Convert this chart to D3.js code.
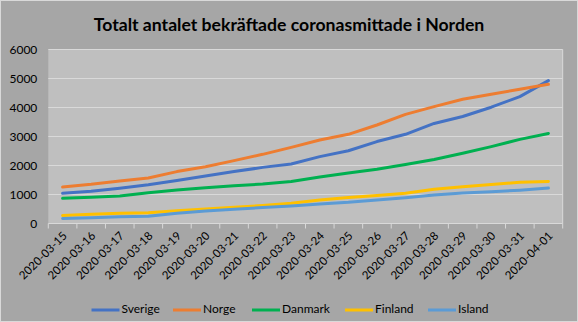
<!DOCTYPE html>
<html>
<head>
<meta charset="utf-8">
<script src="https://cdn.jsdelivr.net/npm/d3@7"></script>
<style>
  html, body { margin: 0; padding: 0; background: #a6a6a6; }
  svg { display: block; font-family: Lato, "Open Sans", sans-serif; }
</style>
</head>
<body>
<svg id="chart" width="578" height="322"></svg>
<script>
// Dates (x categories)
const dates = [
  "2020-03-15","2020-03-16","2020-03-17","2020-03-18","2020-03-19","2020-03-20",
  "2020-03-21","2020-03-22","2020-03-23","2020-03-24","2020-03-25","2020-03-26",
  "2020-03-27","2020-03-28","2020-03-29","2020-03-30","2020-03-31","2020-04-01"
];

// Cumulative confirmed cases per country
const sverige = [1040,1110,1215,1335,1485,1640,1790,1935,2050,2305,2510,2825,3075,3450,3690,4010,4375,4925];
const norge   = [1259,1351,1466,1569,1790,1960,2167,2385,2626,2879,3075,3397,3764,4030,4282,4454,4630,4800];
const danmark = [868,903,948,1063,1155,1230,1300,1362,1450,1600,1745,1870,2035,2210,2420,2650,2900,3105];
const finland = [280,316,351,373,443,500,557,622,695,810,895,965,1045,1180,1265,1345,1420,1446];
const island  = [170,201,236,247,355,435,490,550,605,672,730,810,890,980,1050,1098,1150,1220];

const seriesNames = ["Sverige","Norge","Danmark","Finland","Island"];
const seriesColors = ["#4472c4","#ed7d31","#00b050","#ffc000","#5b9bd5"];
const yTicks = [0,1000,2000,3000,4000,5000,6000];

const titleText = "Totalt antalet bekräftade coronasmittade i Norden";

const series = [sverige, norge, danmark, finland, island].map((vals, k) => ({
  name: seriesNames[k], color: seriesColors[k], values: vals
}));

const svg = d3.select("#chart");
const W = 578, H = 322;
const plot = { left: 48.3, right: 562.7, top: 49.5, bottom: 223.5 };

// Outer chart area
svg.append("rect").attr("x", 0.5).attr("y", 0.5).attr("width", W - 1).attr("height", H - 1)
  .attr("fill", "#a6a6a6").attr("stroke", "#d9d9d9").attr("stroke-width", 1);

// Plot area
svg.append("rect")
  .attr("x", plot.left).attr("y", plot.top)
  .attr("width", plot.right - plot.left).attr("height", plot.bottom - plot.top)
  .attr("fill", "#bfbfbf");

const x = d3.scaleBand().domain(dates).range([plot.left, plot.right]).paddingInner(0).paddingOuter(0);
const y = d3.scaleLinear().domain([0, 6000]).range([plot.bottom, plot.top]);

// Horizontal gridlines
svg.append("g").selectAll("line").data(yTicks.filter(d => d > 0)).join("line")
  .attr("x1", plot.left).attr("x2", plot.right)
  .attr("y1", d => y(d)).attr("y2", d => y(d))
  .attr("stroke", "#d9d9d9").attr("stroke-width", 1);

// Right edge of plot area
svg.append("line").attr("x1", plot.right).attr("x2", plot.right)
  .attr("y1", plot.top).attr("y2", plot.bottom)
  .attr("stroke", "#d9d9d9").attr("stroke-width", 1);

// Y axis labels
const yAxis = d3.axisLeft(y).tickValues(yTicks).tickSize(0).tickPadding(11).tickFormat(d3.format("d"));
const gy = svg.append("g").attr("transform", `translate(${plot.left},0)`).call(yAxis);
gy.select(".domain").remove();
gy.selectAll("text").attr("fill", "#000").style("font-size", "12px")
  .style("font-family", "Lato, sans-serif");

// X axis: baseline, tick marks at category boundaries
const gx = svg.append("g").attr("transform", `translate(0,${plot.bottom})`);
gx.append("line").attr("x1", plot.left).attr("x2", plot.right).attr("y1", 0).attr("y2", 0)
  .attr("stroke", "#d9d9d9").attr("stroke-width", 1);
const boundaries = dates.map(d => x(d)).concat([plot.right]);
gx.selectAll("line.tick").data(boundaries).join("line").attr("class", "tick")
  .attr("x1", d => d).attr("x2", d => d).attr("y1", 0).attr("y2", 5)
  .attr("stroke", "#d9d9d9").attr("stroke-width", 1);

// X labels rotated 45 degrees
gx.selectAll("text").data(dates).join("text")
  .attr("transform", d => `translate(${x(d) + x.bandwidth() / 2 + 3},${11}) rotate(-45)`)
  .attr("text-anchor", "end")
  .attr("dominant-baseline", "middle")
  .attr("fill", "#000")
  .style("font-size", "11.5px")
  .text(d => d);

// Lines
const line = d3.line()
  .x((v, i) => x(dates[i]) + x.bandwidth() / 2)
  .y(v => y(v));

svg.append("g").selectAll("path").data(series).join("path")
  .attr("d", s => line(s.values))
  .attr("fill", "none")
  .attr("stroke", s => s.color)
  .attr("stroke-width", 3)
  .attr("stroke-linejoin", "round")
  .attr("stroke-linecap", "round");

// Title, sized to its measured width
const title = svg.append("text")
  .attr("x", W / 2).attr("y", 31)
  .attr("text-anchor", "middle")
  .attr("fill", "#000")
  .style("font-weight", "bold")
  .style("font-size", "18px")
  .text(titleText);
const tw = title.node().getComputedTextLength();
title.style("font-size", (18 * 391 / tw).toFixed(2) + "px");

// Legend
const legendX = [91.5, 173, 252, 345, 428];
const legend = svg.append("g").attr("transform", "translate(0,310)");
const items = legend.selectAll("g").data(series).join("g")
  .attr("transform", (s, i) => `translate(${legendX[i]},0)`);
items.append("line").attr("x1", 0).attr("x2", 28).attr("y1", 0).attr("y2", 0)
  .attr("stroke", s => s.color).attr("stroke-width", 3);
items.append("text").attr("x", 30).attr("y", 0)
  .attr("dominant-baseline", "middle")
  .attr("fill", "#000")
  .style("font-size", "12px")
  .text(s => s.name);
</script>
</body>
</html>
